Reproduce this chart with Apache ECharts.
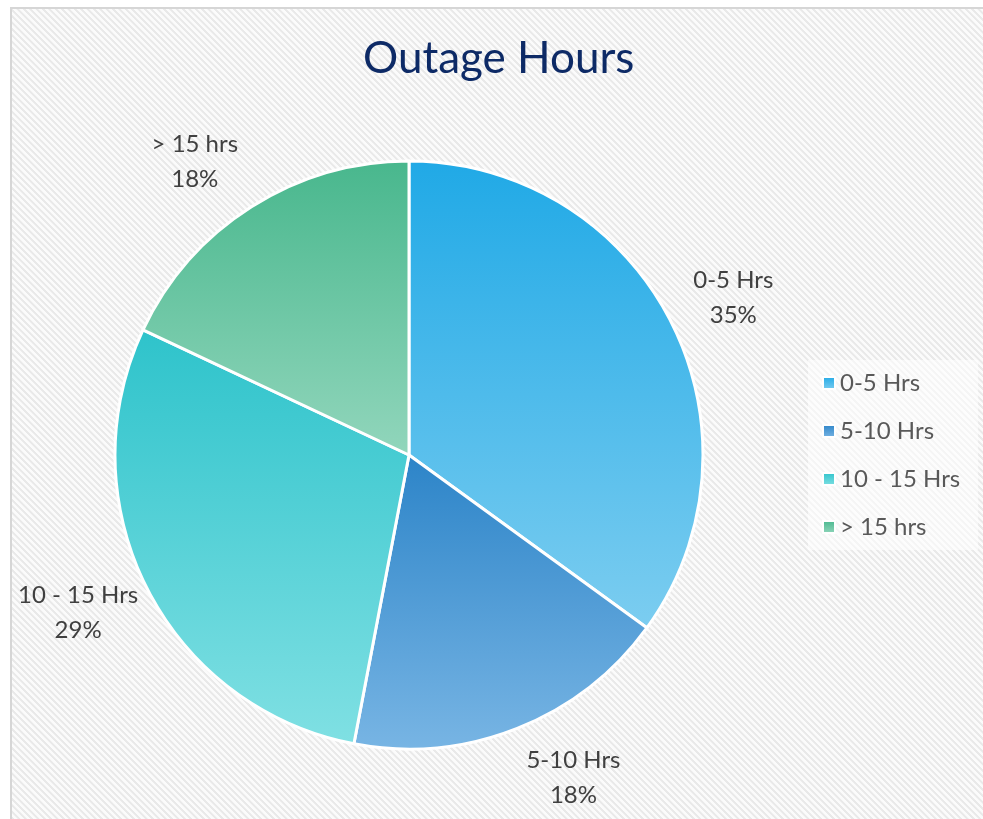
<!DOCTYPE html>
<html>
<head>
<meta charset="utf-8">
<script src="https://cdn.jsdelivr.net/npm/echarts@6/dist/echarts.min.js"></script>
<style>
    html, body { margin: 0; padding: 0; background: #fff; }
    /* hatched chart area, like the office chart frame */
    #frame {
        position: absolute; left: 10px; top: 7px; width: 980px; height: 820px;
        border-left: 2px solid #d6d6d6; border-top: 2px solid #d6d6d6;
        background: repeating-linear-gradient(45deg, #fbfbfb 0px, #fbfbfb 2px, #e9e9e9 2.5px, #e9e9e9 4px, #fbfbfb 4.5px);
    }
    #main { position: absolute; left: 0; top: 0; width: 983px; height: 819px; }
</style>
</head>
<body>
<div id="frame"></div>
<div id="main"></div>
<script>
// 分类与占比
var categories = ['0-5 Hrs', '5-10 Hrs', '10 - 15 Hrs', '> 15 hrs'];
var shares = [35, 18, 29, 18];

// 每个扇区的渐变色（上 -> 下）
var topColors = ['#20a9e6', '#2c84c8', '#2ec3cb', '#48b78d'];
var bottomColors = ['#7ccdf0', '#78b5e4', '#80e0e3', '#92d6bc'];

// 标签与饼图边缘的间距（水平 / 垂直）
var gapX = 25;
var gapY = 18;
// 标签不能超出图表区左边界
var labelMinLeft = 18;

/**
 * 把标签放在扇区外侧，文字块紧挨饼图边缘，略偏向水平方向
 */
function placeLabel(params) {
    var pts = params.labelLinePoints;
    if (!pts || pts.length < 2) {
        return {};
    }
    var dx = pts[1][0] - pts[0][0];
    var dy = pts[1][1] - pts[0][1];
    var len = Math.sqrt(dx * dx + dy * dy) || 1;
    var ux = dx / len, uy = dy / len;
    var r = params.labelRect;
    var offX = (ux < 0 ? -1 : 1) * r.width / 2 + ux * gapX;
    var offY = uy * (r.height / 2 + gapY);
    var x = Math.max(pts[0][0] + offX, labelMinLeft + r.width / 2);
    return {
        x: x,
        y: pts[0][1] + offY,
        align: 'center',
        verticalAlign: 'middle'
    };
}

var pieData = [];
for (var i = 0; i < categories.length; i++) {
    pieData.push({
        name: categories[i],
        value: shares[i],
        itemStyle: {
            color: new echarts.graphic.LinearGradient(0, 0, 0, 1, [
                { offset: 0, color: topColors[i] },
                { offset: 1, color: bottomColors[i] }
            ])
        }
    });
}

var option = {
    animation: false,
    textStyle: { fontFamily: 'Lato' },
    title: {
        text: 'Outage Hours',
        left: 358,
        top: 32,
        textStyle: {
            fontFamily: 'Lato',
            fontSize: 44,
            fontWeight: 'normal',
            color: '#0d2a66'
        }
    },
    legend: {
        orient: 'vertical',
        left: 808,
        top: 360,
        padding: [11, 18, 11, 14],
        backgroundColor: 'rgba(255,255,255,0.55)',
        icon: 'rect',
        itemWidth: 12,
        itemHeight: 12,
        itemGap: 24,
        selectedMode: false,
        data: categories,
        textStyle: {
            fontFamily: 'Lato',
            fontSize: 24,
            color: '#595959',
            lineHeight: 24
        }
    },
    series: [{
        name: 'Outage Hours',
        type: 'pie',
        center: [409, 455],
        radius: 294,
        startAngle: 90,
        clockwise: true,
        silent: true,
        itemStyle: {
            borderColor: '#ffffff',
            borderWidth: 3
        },
        label: {
            show: true,
            position: 'outside',
            formatter: '{b}\n{d}%',
            fontFamily: 'Lato',
            fontSize: 24,
            lineHeight: 35,
            color: '#404040',
            align: 'center',
            overflow: 'none'
        },
        labelLine: {
            show: true,
            length: 20,
            length2: 0,
            lineStyle: { width: 0, opacity: 0 }
        },
        labelLayout: placeLabel,
        data: pieData
    }]
};

var chart = echarts.init(document.getElementById('main'));
chart.setOption(option);
</script>
</body>
</html>
